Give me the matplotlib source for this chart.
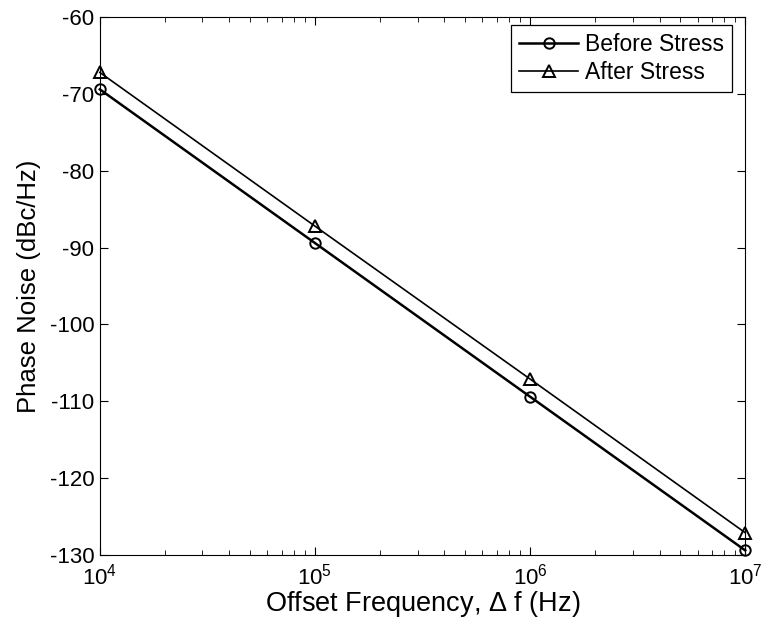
import numpy as np
import matplotlib.pyplot as plt

plt.rcParams['font.family'] = 'Liberation Sans'
plt.rcParams['mathtext.fontset'] = 'custom'
plt.rcParams['mathtext.rm'] = 'Liberation Sans'
plt.rcParams['mathtext.it'] = 'Liberation Sans:italic'
plt.rcParams['axes.unicode_minus'] = False

freq = [1e4, 1e5, 1e6, 1e7]
before_stress = [-69.4, -89.4, -109.4, -129.4]
after_stress = [-67.2, -87.2, -107.1, -127.1]

fig = plt.figure(figsize=(7.62, 6.34), dpi=100)
ax = fig.add_axes([0.131, 0.1246, 0.847, 0.8484])

ax.semilogx(freq, before_stress, '-o', color='k', lw=1.8, ms=7.5,
            mfc='none', mew=1.4, clip_on=False, label='Before Stress', zorder=3)
ax.semilogx(freq, after_stress, '-^', color='k', lw=1.2, ms=8.5,
            mfc='none', mew=1.4, clip_on=False, label='After Stress', zorder=3)

ax.set_xlim(1e4, 1e7)
ax.set_ylim(-130, -60)
ax.set_yticks(np.arange(-130, -59, 10))
ax.tick_params(which='both', direction='in', top=True, right=True, labelsize=16)
ax.tick_params(which='major', length=6, pad=4)
ax.tick_params(axis='x', which='major', pad=6)
ax.tick_params(which='minor', length=3.5)

ax.set_xlabel(r'Offset Frequency, $\Delta$ f (Hz)', fontsize=19.5, labelpad=0)
ax.set_ylabel('Phase Noise (dBc/Hz)', fontsize=18.5, labelpad=6)

leg = ax.legend(loc='upper right', bbox_to_anchor=(0.98, 0.985),
                fontsize=16.5, fancybox=False, edgecolor='k', framealpha=1,
                handlelength=2.6, handletextpad=0.3, borderaxespad=0,
                borderpad=0.35, labelspacing=0.2)
leg.get_frame().set_linewidth(0.9)

fig.savefig('out.png', dpi=100)
